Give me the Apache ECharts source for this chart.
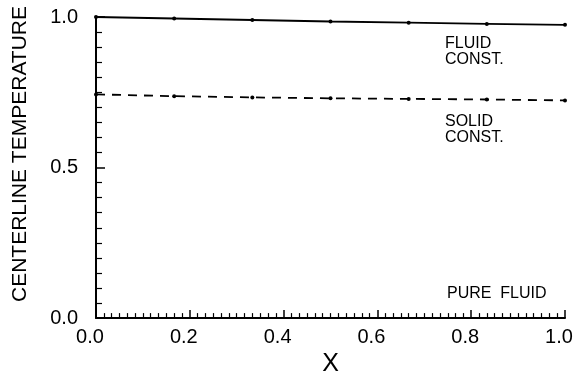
<!DOCTYPE html>
<html>
<head>
<meta charset="utf-8">
<script src="https://cdn.jsdelivr.net/npm/echarts@6/dist/echarts.min.js"></script>
<style>html,body{margin:0;padding:0;background:#fff;}#c{width:578px;height:382px;}</style>
</head>
<body>
<div id="c"></div>
<script>
var xValues = [0, 1/6, 2/6, 3/6, 4/6, 5/6, 1.0];
var fluidConst = [1.0, 0.995, 0.99, 0.985, 0.981, 0.977, 0.974];
var solidConst = [0.743, 0.737, 0.733, 0.730, 0.728, 0.726, 0.723];
var pureFluid = [0, 0, 0, 0, 0, 0, 0];
var xTicks = [0.0, 0.2, 0.4, 0.6, 0.8, 1.0];
var yTicks = [0.0, 0.5, 1.0];

function pairs(ys) { return xValues.map(function (x, i) { return [x, ys[i]]; }); }
var FONT = 'Liberation Sans';
var chart = echarts.init(document.getElementById('c'), null, {renderer: 'canvas'});
chart.setOption({
  animation: false,
  backgroundColor: '#fff',
  grid: {left: 96, right: 13, top: 17, bottom: 54, containLabel: false},
  xAxis: {
    type: 'value', min: 0, max: 1, interval: 0.2,
    name: 'X', nameLocation: 'middle', nameGap: 25,
    nameTextStyle: {fontFamily: FONT, fontSize: 25, color: '#000'},
    axisLine: {lineStyle: {color: '#000', width: 2}},
    axisTick: {inside: true, length: 8, lineStyle: {color: '#000', width: 1.5}},
    minorTick: {show: true, splitNumber: 12, length: 5, lineStyle: {color: '#000', width: 1.2}},
    splitLine: {show: false},
    axisLabel: {fontFamily: FONT, fontSize: 20, color: '#000', margin: 9, padding: [0, 12, 0, 0],
      formatter: function (v) { return v.toFixed(1); }}
  },
  yAxis: {
    type: 'value', min: 0, max: 1, interval: 0.5,
    axisLine: {show: true, lineStyle: {color: '#000', width: 2}},
    axisTick: {show: true, inside: true, length: 9, lineStyle: {color: '#000', width: 1.5}},
    minorTick: {show: true, splitNumber: 10, length: 6, lineStyle: {color: '#000', width: 1.2}},
    splitLine: {show: false},
    axisLabel: {fontFamily: FONT, fontSize: 20, color: '#000', margin: 18,
      formatter: function (v) { return v.toFixed(1); }}
  },
  graphic: [
    {type: 'text', x: 20, y: 154, rotation: Math.PI / 2,
      style: {text: 'CENTERLINE TEMPERATURE', fontFamily: FONT, fontSize: 21, fill: '#000',
        align: 'center', verticalAlign: 'middle'}},
    {type: 'text', left: 445, top: 36,
      style: {text: 'FLUID\nCONST.', fontFamily: FONT, fontSize: 16, lineHeight: 16, fill: '#000'}},
    {type: 'text', left: 445, top: 114,
      style: {text: 'SOLID\nCONST.', fontFamily: FONT, fontSize: 16, lineHeight: 16, fill: '#000'}},
    {type: 'text', left: 447, top: 286,
      style: {text: 'PURE  FLUID', fontFamily: FONT, fontSize: 16, fill: '#000'}}
  ],
  series: [
    {type: 'line', data: pairs(fluidConst), symbol: 'circle', symbolSize: 4,
      itemStyle: {color: '#000'}, lineStyle: {color: '#000', width: 1.8}},
    {type: 'line', data: pairs(solidConst), symbol: 'circle', symbolSize: 4,
      itemStyle: {color: '#000'}, lineStyle: {color: '#000', width: 1.8, type: [9, 7]}},
    {type: 'line', data: pairs(pureFluid), symbol: 'none',
      lineStyle: {color: '#000', width: 1.8}}
  ]
});
</script>
</body>
</html>
